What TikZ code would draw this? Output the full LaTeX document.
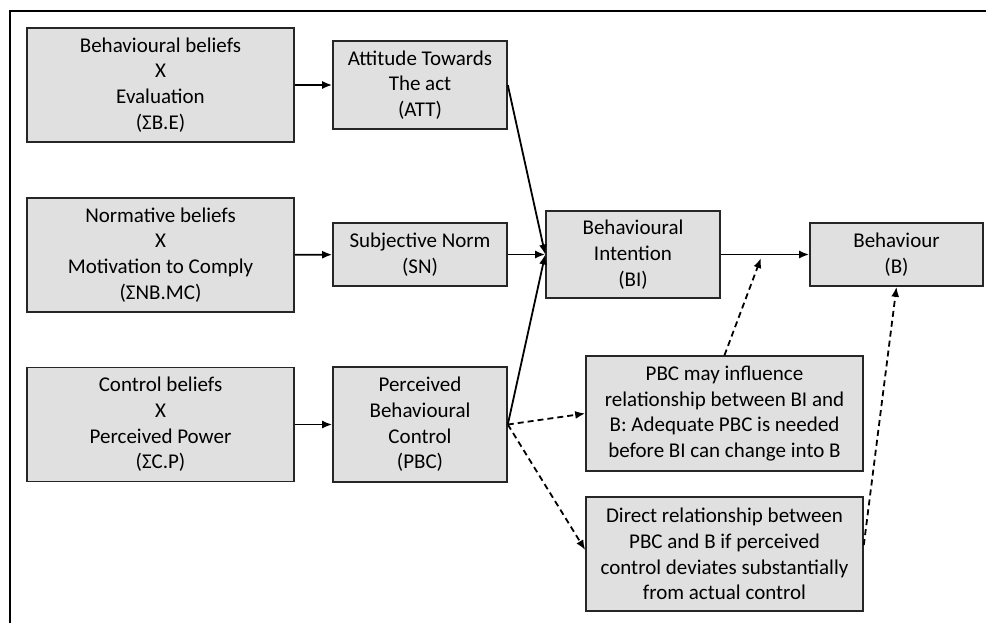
\documentclass[tikz,border=0pt]{standalone}
\usepackage{fontspec}
\setmainfont{Carlito}
\usetikzlibrary{arrows.meta}
\definecolor{boxgray}{RGB}{224,224,224}
\begin{document}
\begin{tikzpicture}[x=0.5pt,y=-0.5pt,
    box/.style={draw=black!85,fill=boxgray,line width=0.8pt,align=center,inner sep=0pt,
        font=\fontsize{10.5}{12.85}\selectfont},
    wide/.style={box,minimum width=133.5pt,minimum height=57pt},
    narrow/.style={box,minimum width=87pt},
    note/.style={box,minimum width=138.5pt,minimum height=57.5pt},
    arr/.style={-{Latex[length=5pt,width=4pt]},line width=0.9pt},
    darr/.style={arr,dash pattern=on 3pt off 2pt}]
    \useasboundingbox (0,0) rectangle (986,623);
    \draw[line width=1.2pt] (10,623) -- (10,11) -- (986,11);
    % belief boxes
    \node[wide] (bbe) at (160.5,85) {Behavioural beliefs\\X\\Evaluation\\(ΣB.E)};
    \node[wide] (nbmc) at (160.5,255) {Normative beliefs\\X\\Motivation to Comply\\(ΣNB.MC)};
    \node[wide] (cbp) at (160.5,424.5) {Control beliefs\\X\\Perceived Power\\(ΣC.P)};
    % constructs
    \node[narrow,minimum height=44pt] (att) at (420,85) {Attitude Towards\\The act\\(ATT)};
    \node[narrow,minimum height=31.5pt] (sn) at (420,254.5) {Subjective Norm\\(SN)};
    \node[narrow,minimum height=57.5pt] (pbc) at (420,424.5) {Perceived\\Behavioural\\Control\\(PBC)};
    \node[narrow,minimum height=43.5pt] (bi) at (633,254.5) {Behavioural\\Intention\\(BI)};
    \node[box,minimum width=86.5pt,minimum height=31.5pt] (b) at (896.5,254.5) {Behaviour\\(B)};
    % notes
    \node[note] (infl) at (724.5,413.5) {PBC may influence\\relationship between BI and\\B: Adequate PBC is needed\\before BI can change into B};
    \node[note,minimum height=57pt] (direct) at (724.5,554) {Direct relationship between\\PBC and B if perceived\\control deviates substantially\\from actual control};
    \coordinate (mid) at (761,258);
    % arrows
    \draw[arr] (bbe) -- (att);
    \draw[arr] (nbmc) -- (sn);
    \draw[arr] (cbp) -- (pbc);
    \draw[arr] (att.east) -- (bi.west);
    \draw[arr] (sn.east) -- (bi.west);
    \draw[arr] (pbc.east) -- (bi.west);
    \draw[arr] (bi) -- (b);
    \draw[darr] (pbc.east) -- (infl.west);
    \draw[darr] (pbc.east) -- ([yshift=2pt]direct.west);
    \draw[darr] (infl.north) -- (mid);
    \draw[darr] ([yshift=4.5pt]direct.east) -- (b.south);
\end{tikzpicture}
\end{document}
